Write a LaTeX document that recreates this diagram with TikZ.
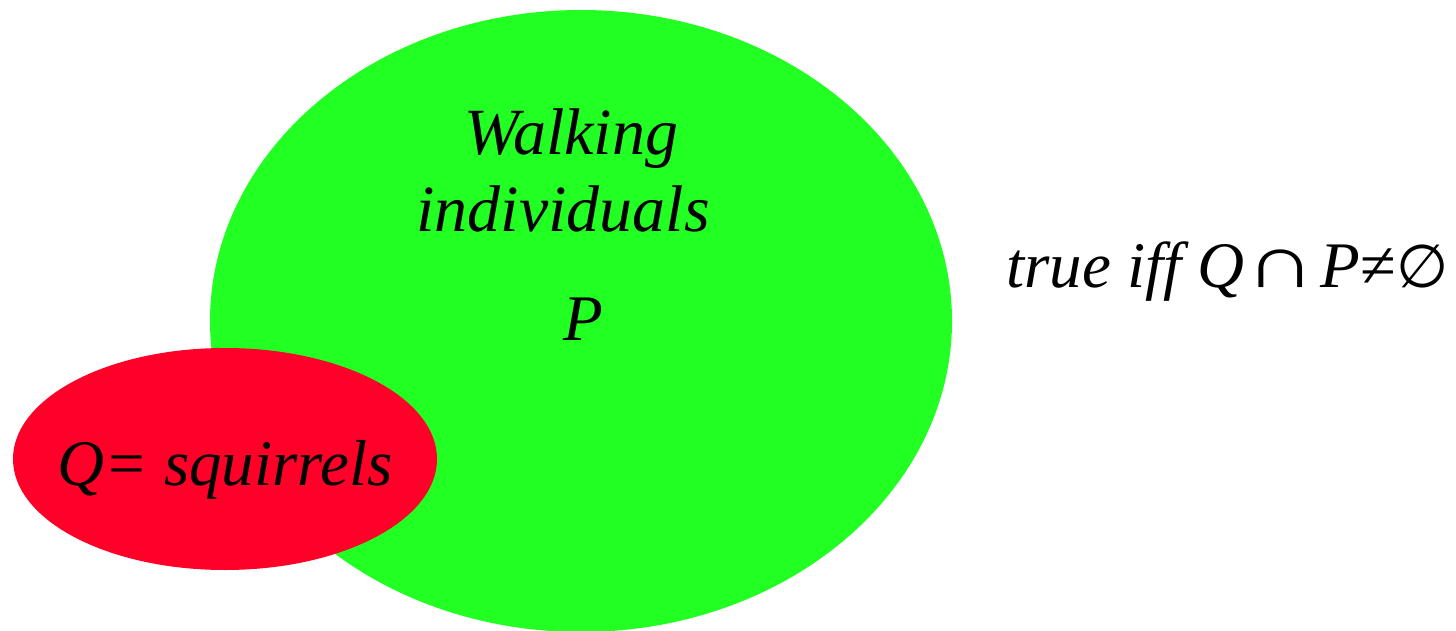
\documentclass[tikz,border=0pt]{standalone}
\usepackage{fontspec}
\usepackage{graphicx}
\setmainfont{Liberation Serif}
\newfontfamily\symfnt{DejaVu Sans}
\definecolor{pgreen}{HTML}{22FF22}
\definecolor{qred}{HTML}{FF0029}
\begin{document}
\begin{tikzpicture}[x=1pt,y=1pt,
  lbl/.style={anchor=base,inner sep=0pt,font=\fontsize{65}{72}\selectfont\itshape}]
\useasboundingbox (0,0) rectangle (1456,-631);
\fill[pgreen] (581,-321) ellipse [x radius=371, y radius=311];
\fill[qred] (225,-459) ellipse [x radius=212, y radius=111];
\node[lbl,font=\fontsize{66}{72}\selectfont\itshape] (walk) at (571,-155) {Walking};
\node[lbl,font=\fontsize{66}{72}\selectfont\itshape] (indiv) at (563,-232) {individuals};
\node[lbl] (p) at (583,-340) {P};
\node[lbl] (q) at (225,-485) {Q= squirrels};
\node[lbl,anchor=base west] (t) at (1006,-287) {true iff Q\hspace{1pt}{\upshape\scalebox{1.5}[1.15]{∩}}\hspace{5pt}P{\upshape≠}{\symfnt\fontsize{60}{72}\selectfont ∅}};
\end{tikzpicture}
\end{document}
